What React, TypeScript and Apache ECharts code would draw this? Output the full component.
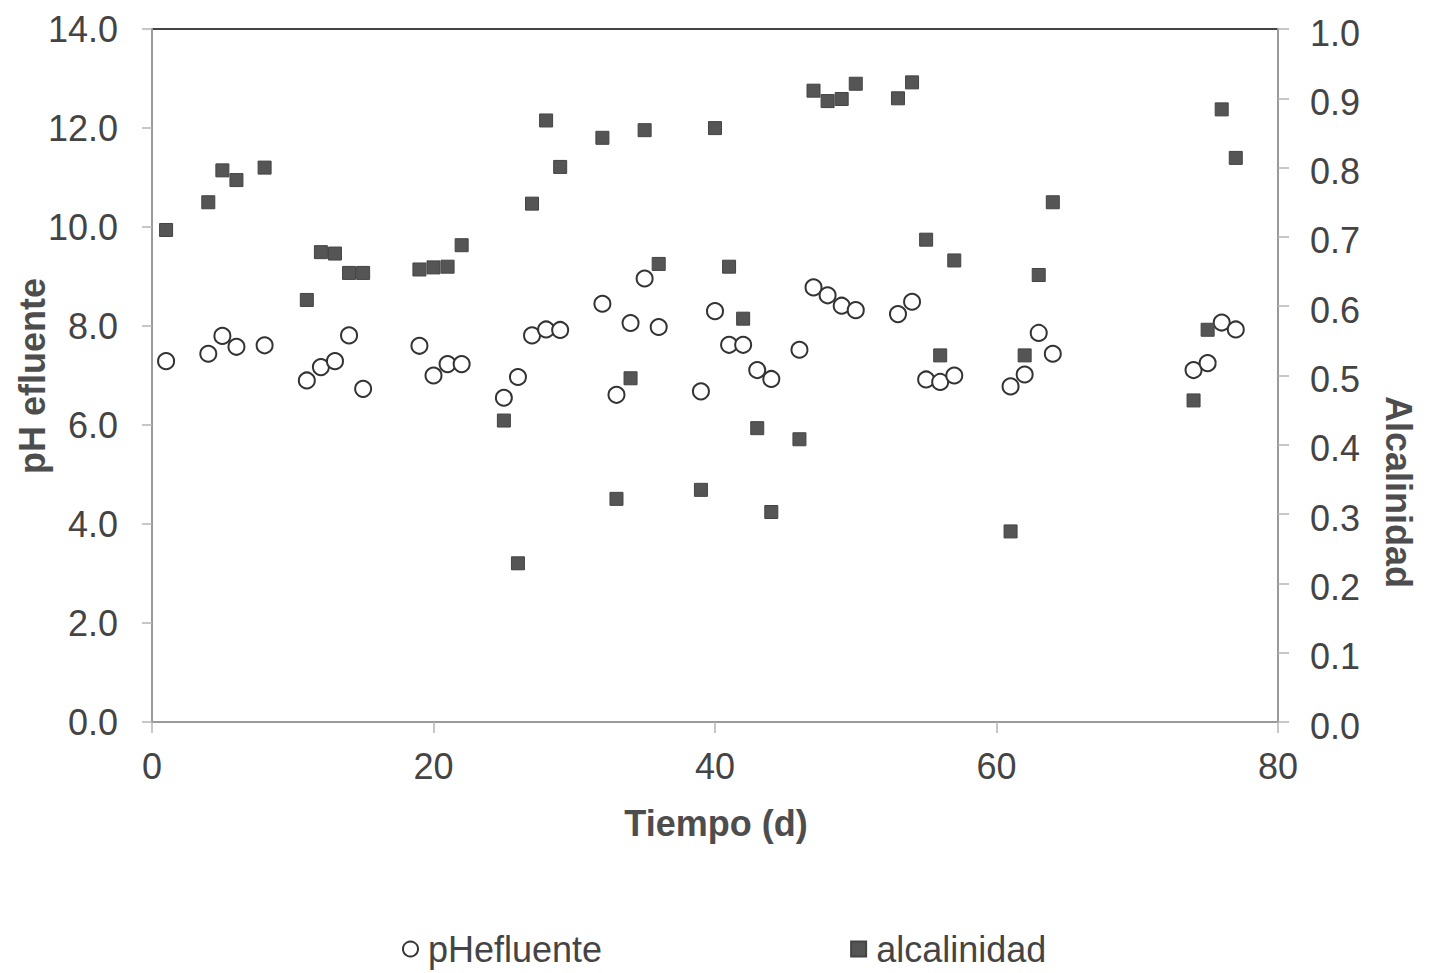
import { useEffect, useRef } from "react";
import * as echarts from "echarts";

// Sampling days (d)
const days = [
  1, 4, 5, 6, 8, 11, 12, 13, 14, 15, 19, 20, 21, 22, 25, 26, 27, 28, 29, 32,
  33, 34, 35, 36, 39, 40, 41, 42, 43, 44, 46, 47, 48, 49, 50, 53, 54, 55, 56,
  57, 61, 62, 63, 64, 74, 75, 76, 77,
];

// Effluent pH (left axis)
const phEfluente = [
  7.29, 7.44, 7.8, 7.58, 7.61, 6.9, 7.17, 7.29, 7.81, 6.73, 7.6, 7.0, 7.23,
  7.23, 6.55, 6.97, 7.81, 7.93, 7.92, 8.45, 6.61, 8.06, 8.96, 7.98, 6.68, 8.3,
  7.62, 7.62, 7.11, 6.93, 7.52, 8.78, 8.62, 8.41, 8.32, 8.24, 8.49, 6.92, 6.87,
  7.0, 6.78, 7.02, 7.86, 7.44, 7.11, 7.25, 8.07, 7.93,
];

// Alkalinity (right axis)
const alcalinidad = [
  0.71, 0.75, 0.796, 0.782, 0.8, 0.609, 0.678, 0.676, 0.648, 0.648, 0.653,
  0.656, 0.657, 0.688, 0.435, 0.229, 0.748, 0.868, 0.801, 0.843, 0.322, 0.496,
  0.854, 0.661, 0.335, 0.857, 0.657, 0.582, 0.424, 0.303, 0.408, 0.911, 0.896,
  0.899, 0.921, 0.9, 0.923, 0.696, 0.529, 0.666, 0.275, 0.529, 0.645, 0.75,
  0.464, 0.566, 0.884, 0.814,
];

// Axis ranges
const xRange = { min: 0, max: 80, interval: 20 };
const phRange = { min: 0, max: 14, interval: 2 };
const alkRange = { min: 0, max: 1, interval: 0.1 };

const FONT = '"Liberation Sans", Arial, Helvetica, sans-serif';
const TEXT = "#444444";
const TITLE = "#4d4d4d";

export default function App() {
  const ref = useRef<HTMLDivElement>(null);

  useEffect(() => {
    if (!ref.current) return;
    const chart = echarts.init(ref.current, undefined, { renderer: "svg" });

    const phData = days.map((d, i) => [d, phEfluente[i]]);
    const alkData = days.map((d, i) => [d, alcalinidad[i]]);

    chart.setOption({
      animation: false,
      backgroundColor: "#ffffff",
      textStyle: { fontFamily: FONT },
      grid: {
        left: 152,
        right: 153,
        top: 29,
        bottom: 251,
        show: true,
        borderColor: "#444444",
        borderWidth: 2,
        backgroundColor: "#ffffff",
      },
      xAxis: {
        type: "value",
        min: xRange.min,
        max: xRange.max,
        interval: xRange.interval,
        splitLine: { show: false },
        axisLine: { show: true, lineStyle: { color: "#9a9a9a", width: 2 } },
        axisTick: {
          show: true,
          inside: false,
          length: 11,
          lineStyle: { color: "#b5b5b5", width: 1.5 },
        },
        axisLabel: {
          fontSize: 36,
          color: TEXT,
          fontFamily: FONT,
          margin: 26,
        },
      },
      yAxis: [
        {
          type: "value",
          position: "left",
          min: phRange.min,
          max: phRange.max,
          interval: phRange.interval,
          splitLine: { show: false },
          axisLine: { show: true, lineStyle: { color: "#9a9a9a", width: 2 } },
          axisTick: {
            show: true,
            inside: false,
            length: 10,
            lineStyle: { color: "#b5b5b5", width: 1.5 },
          },
          axisLabel: {
            fontSize: 36,
            color: TEXT,
            fontFamily: FONT,
            margin: 34,
            formatter: (v: number) => v.toFixed(1),
          },
        },
        {
          type: "value",
          position: "right",
          min: alkRange.min,
          max: alkRange.max,
          interval: alkRange.interval,
          splitLine: { show: false },
          axisLine: { show: true, lineStyle: { color: "#9a9a9a", width: 2 } },
          axisTick: {
            show: true,
            inside: false,
            length: 11,
            lineStyle: { color: "#b5b5b5", width: 1.5 },
          },
          axisLabel: {
            fontSize: 36,
            color: TEXT,
            fontFamily: FONT,
            margin: 32,
            verticalAlign: "top",
            padding: [-14, 0, 0, 0],
            formatter: (v: number) => v.toFixed(1),
          },
        },
      ],
      legend: {
        left: 397,
        top: 926,
        orient: "horizontal",
        itemWidth: 15,
        itemHeight: 15,
        itemGap: 248,
        textStyle: {
          fontSize: 36,
          color: TEXT,
          fontFamily: FONT,
          padding: [0, 0, 0, 5],
        },
        data: [
          { name: "pHefluente", icon: "circle" },
          { name: "alcalinidad", icon: "rect" },
        ],
      },
      graphic: [
        {
          type: "text",
          x: 32,
          y: 376,
          rotation: Math.PI / 2,
          style: {
            text: "pH efluente",
            fill: TITLE,
            font: `bold 36px ${FONT}`,
            textAlign: "center",
            textVerticalAlign: "middle",
            align: "center",
            verticalAlign: "middle",
          },
        },
        {
          type: "text",
          x: 1398,
          y: 492,
          rotation: -Math.PI / 2,
          style: {
            text: "Alcalinidad",
            fill: TITLE,
            font: `bold 36px ${FONT}`,
            textAlign: "center",
            textVerticalAlign: "middle",
            align: "center",
            verticalAlign: "middle",
          },
        },
        {
          type: "text",
          x: 716,
          y: 823,
          style: {
            text: "Tiempo (d)",
            fill: TITLE,
            font: `bold 36px ${FONT}`,
            textAlign: "center",
            textVerticalAlign: "middle",
            align: "center",
            verticalAlign: "middle",
          },
        },
      ],
      series: [
        {
          name: "pHefluente",
          type: "scatter",
          yAxisIndex: 0,
          symbol: "circle",
          symbolSize: 16,
          itemStyle: {
            color: "#ffffff",
            borderColor: "#333333",
            borderWidth: 2,
            opacity: 1,
          },
          data: phData,
          z: 2,
        },
        {
          name: "alcalinidad",
          type: "scatter",
          yAxisIndex: 1,
          symbol: "rect",
          symbolSize: 13,
          itemStyle: {
            color: "#555555",
            borderColor: "#444444",
            borderWidth: 1,
            opacity: 1,
          },
          data: alkData,
          z: 3,
        },
      ],
    });

    return () => chart.dispose();
  }, []);

  return (
    <div
      ref={ref}
      style={{
        position: "fixed",
        left: 0,
        top: 0,
        width: 1431,
        height: 973,
        background: "#ffffff",
      }}
    />
  );
}
